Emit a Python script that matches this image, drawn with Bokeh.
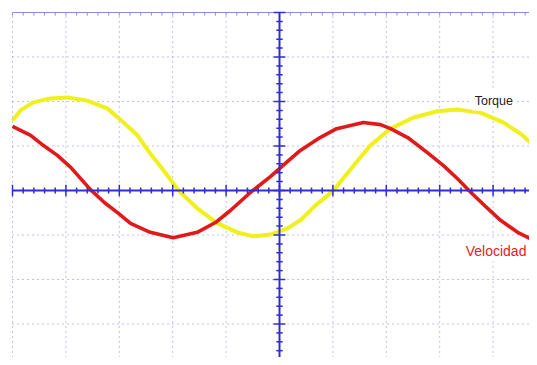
import numpy as np
from bokeh.plotting import figure
from bokeh.models import Label
from bokeh.embed import file_html
from bokeh.resources import INLINE

# Values, in screen divisions (x: time div, y: vertical div)
torque_x = [-5.00, -4.85, -4.61, -4.29, -3.97, -3.60, -3.22, -2.92, -2.66, -2.42,
            -2.17, -1.89, -1.54, -1.16, -0.79, -0.49, -0.17, 0.15, 0.39, 0.67,
            1.01, 1.39, 1.70, 2.08, 2.51, 2.96, 3.33, 3.76, 4.19, 4.51, 4.83]
torque_y = [1.57, 1.80, 1.98, 2.07, 2.09, 2.02, 1.84, 1.53, 1.24, 0.83,
            0.45, 0.00, -0.40, -0.74, -0.94, -1.03, -0.99, -0.85, -0.67, -0.34,
            0.00, 0.56, 1.01, 1.39, 1.64, 1.78, 1.82, 1.75, 1.53, 1.28, 0.94]

vel_x = [-5.00, -4.66, -4.42, -4.16, -3.91, -3.54, -3.28, -3.01, -2.79, -2.42,
         -1.99, -1.54, -1.20, -0.92, -0.54, -0.17, 0.11, 0.39, 0.76, 1.07,
         1.57, 1.89, 2.08, 2.40, 2.77, 3.07, 3.33, 3.58, 3.86, 4.14,
         4.46, 4.76]
vel_y = [1.44, 1.24, 1.01, 0.79, 0.52, 0.02, -0.27, -0.52, -0.74, -0.94,
         -1.06, -0.94, -0.72, -0.45, -0.04, 0.31, 0.61, 0.90, 1.19, 1.39,
         1.53, 1.48, 1.39, 1.19, 0.85, 0.56, 0.27, -0.04, -0.36, -0.67,
         -0.94, -1.12]

grid_x = [-5, -4, -3, -2, -1, 1, 2, 3, 4]
grid_y = [-3, -2, -1, 1, 2, 3]
labels = ["Torque", "Velocidad"]

X0, X1 = -5.225, 4.682
Y0, Y1 = -3.753, 4.270

p = figure(width=529, height=357, x_range=(X0, X1), y_range=(Y0, Y1),
           output_backend="svg", toolbar_location=None, min_border=0)
p.axis.visible = False
p.grid.visible = False
p.outline_line_color = None
p.background_fill_color = "white"
p.border_fill_color = "white"

GRID = "#8585cc"
AXIS = "#2e2ed2"

# dotted grid
for gx in grid_x:
    p.line([gx, gx], [Y0, 4], line_color=GRID, line_width=1, line_dash="1 4")
for gy in grid_y:
    p.line([-5, X1], [gy, gy], line_color=GRID, line_width=1, line_dash="1 4")
# top border
p.line([-5, X1], [4, 4], line_color="#8c8ce6", line_width=1.2)
tx = np.arange(-5, 5.01, 0.2)
p.segment(x0=tx, y0=[4] * len(tx), x1=tx, y1=[4 - 0.07] * len(tx),
          line_color="#8c8ce6", line_width=1)

# traces
p.line(torque_x, torque_y, line_color="#f0f01c", line_width=4, line_join="round")
p.line(vel_x, vel_y, line_color="#e01a1a", line_width=3.6, line_join="round")

# center axes with ticks
p.line([-5, X1], [0, 0], line_color=AXIS, line_width=2)
p.line([0, 0], [Y0, 4], line_color=AXIS, line_width=2)
hx = np.arange(-5, 5.01, 0.2)
major_h = np.isclose(hx, np.round(hx))
hl = np.where(major_h, 0.13, 0.07)
p.segment(x0=hx, y0=-hl, x1=hx, y1=hl, line_color=AXIS, line_width=1.5)
vy = np.arange(-4, 4.01, 0.2)
major_v = np.isclose(vy, np.round(vy))
vl = np.where(major_v, 0.11, 0.06)
p.segment(x0=-vl, y0=vy, x1=vl, y1=vy, line_color=AXIS, line_width=1.5)

p.add_layout(Label(x=3.60, y=2.02, text=labels[0], text_font="Liberation Sans",
                   text_font_size="12.5px", text_color="#222222",
                   text_baseline="middle", text_align="left",
                   background_fill_color="white", padding=3))
p.add_layout(Label(x=3.45, y=-1.37, text=labels[1], text_font="Liberation Sans",
                   text_font_size="14px", text_color="#e52222",
                   text_baseline="middle", text_align="left",
                   background_fill_color="white", padding=2))

open("out.html", "w").write(file_html(p, INLINE))
